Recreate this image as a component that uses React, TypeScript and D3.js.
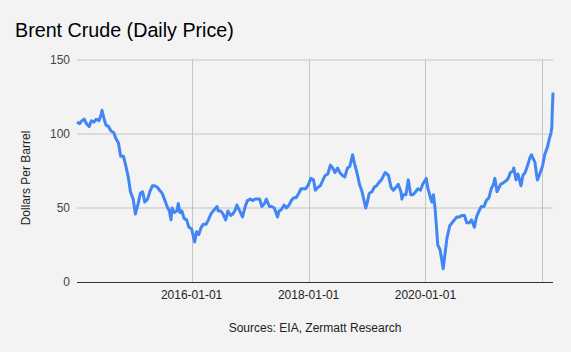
import React from "react";
import * as d3 from "d3";

const dates = [
  "2014-01-15", "2014-02-01", "2014-02-15", "2014-03-01", "2014-03-15", "2014-04-01", "2014-04-15", "2014-05-01",
  "2014-05-15", "2014-06-01", "2014-06-15", "2014-06-20", "2014-07-01", "2014-07-15", "2014-08-01", "2014-08-15",
  "2014-09-01", "2014-09-15", "2014-10-01", "2014-10-15", "2014-11-01", "2014-11-15", "2014-12-01", "2014-12-15",
  "2015-01-01", "2015-01-15", "2015-02-01", "2015-02-15", "2015-03-01", "2015-03-15", "2015-04-01", "2015-04-15",
  "2015-05-01", "2015-05-15", "2015-06-01", "2015-06-15", "2015-07-01", "2015-07-15", "2015-08-01", "2015-08-15",
  "2015-08-25", "2015-09-01", "2015-09-15", "2015-10-01", "2015-10-10", "2015-10-20", "2015-11-01", "2015-11-15",
  "2015-12-01", "2015-12-15",
  "2016-01-01", "2016-01-20", "2016-02-01", "2016-02-15", "2016-03-01", "2016-03-15", "2016-04-01", "2016-04-15",
  "2016-05-01", "2016-05-15", "2016-06-08", "2016-06-15", "2016-07-01", "2016-07-15", "2016-08-01", "2016-08-15",
  "2016-09-01", "2016-09-15", "2016-10-01", "2016-10-10", "2016-11-01", "2016-11-14", "2016-12-01", "2016-12-15",
  "2017-01-01", "2017-01-15", "2017-02-01", "2017-02-15", "2017-03-01", "2017-03-15", "2017-04-01", "2017-04-12",
  "2017-05-01", "2017-05-15", "2017-06-01", "2017-06-21", "2017-07-01", "2017-07-15", "2017-08-01", "2017-08-15",
  "2017-09-01", "2017-09-15", "2017-10-01", "2017-10-15", "2017-11-01", "2017-11-15", "2017-12-01", "2017-12-15",
  "2018-01-01", "2018-01-15", "2018-02-01", "2018-02-12", "2018-03-01", "2018-03-15", "2018-04-01", "2018-04-15",
  "2018-05-01", "2018-05-17", "2018-06-01", "2018-06-15", "2018-07-01", "2018-07-15", "2018-08-01", "2018-08-15",
  "2018-09-01", "2018-09-15", "2018-10-03", "2018-10-15", "2018-11-01", "2018-11-15", "2018-12-01", "2018-12-24",
  "2019-01-01", "2019-01-15", "2019-02-01", "2019-02-15", "2019-03-01", "2019-03-15", "2019-04-01", "2019-04-25",
  "2019-05-15", "2019-05-31", "2019-06-15", "2019-07-01", "2019-07-15", "2019-08-01", "2019-08-07", "2019-08-15",
  "2019-09-01", "2019-09-16", "2019-10-01", "2019-10-15", "2019-11-01", "2019-11-15", "2019-12-01", "2019-12-15",
  "2020-01-06", "2020-01-15", "2020-02-01", "2020-02-10", "2020-02-20", "2020-03-01", "2020-03-10", "2020-03-18",
  "2020-04-01", "2020-04-21", "2020-05-01", "2020-05-15", "2020-06-01", "2020-06-15", "2020-07-01", "2020-07-15",
  "2020-08-01", "2020-08-15", "2020-09-01", "2020-09-15", "2020-10-01", "2020-10-15", "2020-11-02", "2020-11-15",
  "2020-12-01", "2020-12-15",
  "2021-01-01", "2021-01-15", "2021-02-01", "2021-02-15", "2021-03-01", "2021-03-10", "2021-03-23", "2021-04-01",
  "2021-04-15", "2021-05-01", "2021-05-15", "2021-06-01", "2021-06-15", "2021-07-01", "2021-07-06", "2021-07-20",
  "2021-08-01", "2021-08-20", "2021-09-01", "2021-09-15", "2021-10-01", "2021-10-15", "2021-10-25", "2021-11-01",
  "2021-11-15", "2021-11-26", "2021-12-01", "2021-12-15",
  "2022-01-01", "2022-01-15", "2022-02-01", "2022-02-14", "2022-02-24", "2022-03-01", "2022-03-03", "2022-03-08",
];

const prices = [
  108, 107, 109, 110, 107, 105, 109, 108,
  110, 109, 113, 116, 111, 106, 105, 102,
  101, 97, 94, 85, 85, 79, 71, 61,
  56, 46, 53, 60, 61, 54, 56, 61,
  65, 65, 64, 62, 60, 56, 51, 48,
  42, 50, 47, 48, 53, 47, 48, 43,
  42, 37,
  36, 27, 34, 32, 37, 39, 39, 42,
  46, 48, 51, 48, 48, 46, 42, 48,
  45, 46, 49, 52, 47, 44, 51, 55,
  56, 55, 56, 56, 56, 51, 53, 56,
  51, 51, 50, 44, 48, 49, 52, 50,
  52, 55, 57, 57, 60, 63, 63, 63,
  66, 70, 69, 62, 64, 65, 69, 72,
  73, 79, 77, 74, 77, 74, 72, 71,
  77, 78, 86, 80, 73, 66, 61, 50,
  53, 60, 61, 64, 65, 67, 69, 74,
  72, 64, 62, 64, 66, 61, 56, 59,
  59, 69, 59, 59, 61, 63, 62, 66,
  70, 64, 57, 54, 59, 50, 37, 25,
  22, 9, 18, 30, 38, 40, 42, 44,
  44, 45, 45, 40, 40, 42, 37, 44,
  48, 51,
  51, 55, 57, 63, 66, 70, 61, 63,
  66, 67, 68, 70, 74, 75, 77, 69,
  73, 65, 72, 74, 79, 84, 86, 84,
  81, 72, 69, 73,
  78, 86, 91, 97, 101, 105, 114, 128,
];

const yTicks = [0, 50, 100, 150];
const xTicks = ["2016-01-01", "2018-01-01", "2020-01-01", "2022-01-01"];

const W = 571;
const H = 352;
const M = { top: 60, right: 18, bottom: 70, left: 77 };
const FONT = "Arial, 'Liberation Sans', sans-serif";

export default function App() {
  const parse = d3.timeParse("%Y-%m-%d");
  const data = dates.map((d, i) => ({ date: parse(d)!, value: prices[i] }));

  const x = d3
    .scaleTime()
    .domain(d3.extent(data, (d) => d.date) as [Date, Date])
    .range([M.left, W - M.right]);
  const y = d3.scaleLinear().domain([0, 150]).range([H - M.bottom, M.top]);

  const line = d3
    .line<{ date: Date; value: number }>()
    .x((d) => x(d.date))
    .y((d) => y(d.value));

  return (
    <svg
      width={W}
      height={H}
      style={{ position: "absolute", left: 0, top: 0, display: "block" }}
      fontFamily={FONT}
    >
      <rect width={W} height={H} fill="#f3f3f3" />
      <text x={15} y={37} fontSize={19.7} fill="#000">
        Brent Crude (Daily Price)
      </text>

      {/* grid */}
      {yTicks.filter((t) => t > 0).map((t) => (
        <line key={t} x1={M.left} x2={W - M.right} y1={y(t)} y2={y(t)} stroke="#c4c4c4" strokeWidth={1} />
      ))}
      {xTicks.map((t) => {
        const px = Math.round(x(parse(t)!)) + 0.5;
        return <line key={t} x1={px} x2={px} y1={M.top} y2={H - M.bottom} stroke="#c4c4c4" strokeWidth={1} />;
      })}

      {/* y labels */}
      {yTicks.map((t) => (
        <text key={t} x={70} y={y(t) + 4} fontSize={12} textAnchor="end" fill="#444">
          {t}
        </text>
      ))}
      {/* x labels, skip any that would not fit */}
      {xTicks
        .filter((t) => x(parse(t)!) + 32 < W)
        .map((t) => (
          <text key={t} x={x(parse(t)!)} y={299} fontSize={12} textAnchor="middle" fill="#222">
            {t}
          </text>
        ))}

      <path d={line(data) ?? ""} fill="none" stroke="#4285f4" strokeWidth={3} strokeLinejoin="round" />

      <line x1={M.left} x2={W - M.right} y1={y(0) + 0.5} y2={y(0) + 0.5} stroke="#333" strokeWidth={1} />

      <text transform={`translate(30, 178) rotate(-90)`} fontSize={12} textAnchor="middle" fill="#222">
        Dollars Per Barrel
      </text>
      <text x={315} y={332} fontSize={12} textAnchor="middle" fill="#222">
        Sources: EIA, Zermatt Research
      </text>
    </svg>
  );
}
